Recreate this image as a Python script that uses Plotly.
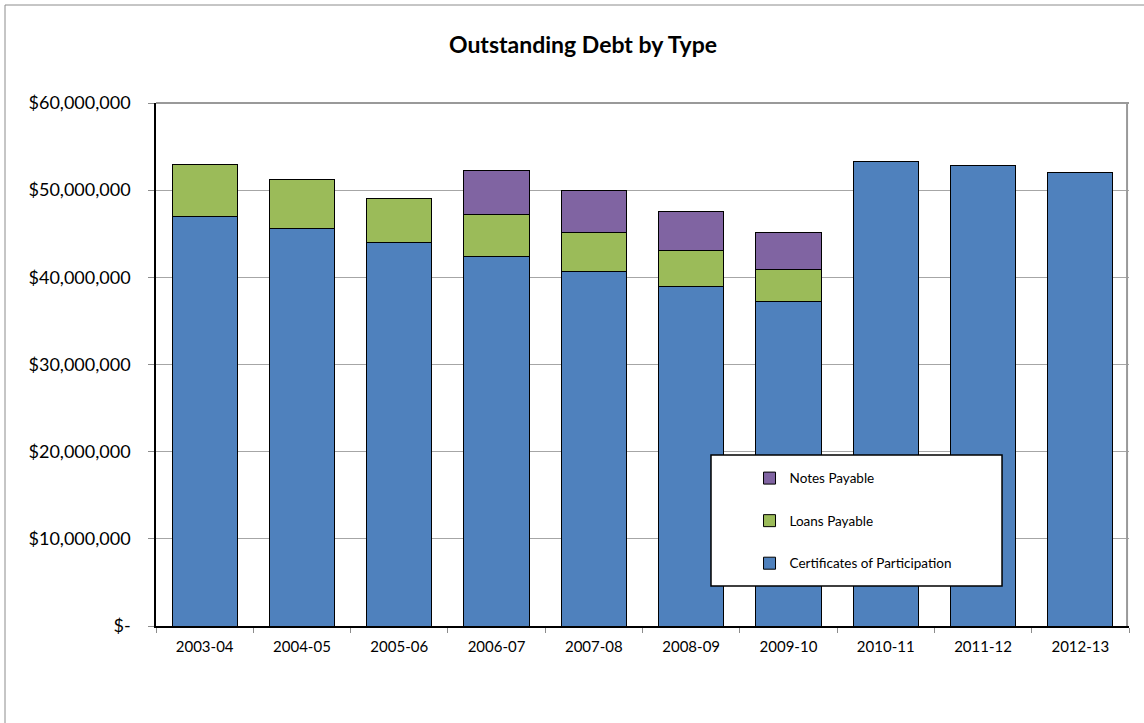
import plotly.graph_objects as go

years = ["2003-04", "2004-05", "2005-06", "2006-07", "2007-08",
         "2008-09", "2009-10", "2010-11", "2011-12", "2012-13"]
certificates = [47.0e6, 45.6e6, 44.0e6, 42.4e6, 40.7e6, 39.0e6, 37.2e6, 53.3e6, 52.8e6, 52.0e6]
loans = [6.0e6, 5.6e6, 5.0e6, 4.8e6, 4.5e6, 4.1e6, 3.7e6, 0, 0, 0]
notes = [0, 0, 0, 5.1e6, 4.8e6, 4.5e6, 4.3e6, 0, 0, 0]

tick_vals = [0, 10e6, 20e6, 30e6, 40e6, 50e6, 60e6]
tick_text = ["$-", "$10,000,000", "$20,000,000", "$30,000,000",
             "$40,000,000", "$50,000,000", "$60,000,000"]

FONT = "Lato, 'Open Sans', sans-serif"
line = dict(color="black", width=1)

fig = go.Figure()
fig.add_bar(x=years, y=certificates, name="Certificates of Participation",
            marker=dict(color="#4F81BD", line=line), legendgroup="g3", legendrank=3)
fig.add_bar(x=years, y=loans, name="Loans Payable",
            marker=dict(color="#9BBB59", line=line), legendgroup="g2", legendrank=2)
fig.add_bar(x=years, y=notes, name="Notes Payable",
            marker=dict(color="#8064A2", line=line), legendgroup="g1", legendrank=1)

# grey top and right edges of the plot area
grey = dict(color="#999999", width=2)
top_edge = dict(type="line", xref="paper", yref="paper", x0=0, x1=1, y0=1, y1=1,
                line=grey, layer="above")
right_edge = dict(type="line", xref="paper", yref="paper", x0=0.998, x1=0.998, y0=0, y1=1,
                  line=grey, layer="above")
# outer chart frame
outer = dict(type="rect", xref="paper", yref="paper",
             x0=(5 - 156) / 973, x1=(1160 - 156) / 973,
             y0=(626 - 740) / 523, y1=(626 - 5) / 523,
             line=dict(color="#8C8C8C", width=1), layer="below")
legend_box = dict(type="rect", xref="paper", yref="paper",
                  x0=0.5704, x1=0.8695, y0=0.0765, y1=0.327,
                  line=dict(color="black", width=1.5), fillcolor="white", layer="above")

fig.update_layout(
    width=1144, height=723,
    barmode="stack", bargap=0.33,
    paper_bgcolor="white", plot_bgcolor="white",
    margin=dict(l=156, r=15, t=103, b=97),
    font=dict(family=FONT, color="black"),
    title=dict(text="<b>Outstanding Debt by Type</b>", x=0.5096, xanchor="center",
               y=0.938, yanchor="middle", font=dict(size=23, family=FONT)),
    showlegend=True,
    legend=dict(x=0.610, y=0.312, xanchor="left", yanchor="top",
                traceorder="grouped", tracegroupgap=22,
                bgcolor="rgba(0,0,0,0)", borderwidth=0,
                font=dict(size=13.5, family=FONT)),
    shapes=[outer, top_edge, right_edge, legend_box],
)

fig.update_xaxes(
    type="category", showline=True, linecolor="black", linewidth=1.5,
    ticks="outside", tickson="boundaries", ticklen=5, tickcolor="#8C8C8C",
    ticklabelstandoff=6,
    tickfont=dict(size=15, family=FONT), showgrid=False,
)
fig.update_yaxes(
    range=[0, 60e6], tickvals=tick_vals, ticktext=tick_text,
    showline=True, linecolor="black", linewidth=1.5,
    ticks="outside", ticklen=6, tickcolor="#8C8C8C", ticklabelstandoff=14,
    showgrid=True, gridcolor="#A6A6A6", gridwidth=1,
    tickfont=dict(size=18, family=FONT), zeroline=False,
)

fig.write_html("out.html")
